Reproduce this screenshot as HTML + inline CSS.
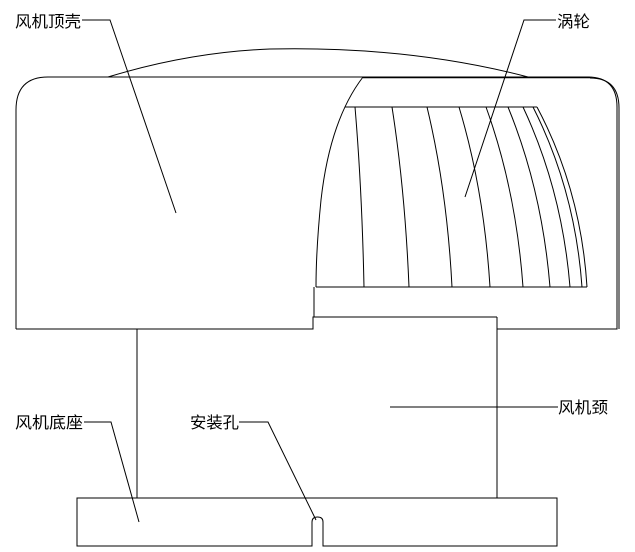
<!DOCTYPE html>
<html><head><meta charset="utf-8"><style>
html,body{margin:0;padding:0;background:#fff;}
svg{display:block}
text{font-family:"Liberation Sans","WenQuanYi Zen Hei","Noto Sans CJK SC",sans-serif;font-size:16px;fill:#000}
</style></head><body>
<svg width="635" height="552" viewBox="0 0 635 552" xmlns="http://www.w3.org/2000/svg">
<g fill="none" stroke="#000" stroke-width="1">
<path d="M16,329 L16,110 Q16,77 48,77 L588,77 Q617,77 617,107 L617,329 L497,329"/>
<path d="M590,78 Q619,78 619,108 L619,329"/>
<path d="M363,77.5 L590,77.5" stroke-width="1.6"/>
<path d="M16,329 L313,329 L313,317 L497,317"/>
<path d="M108,77 Q190,52 270,49 Q410,46 528,77"/>
<path d="M363,77 Q330,120 321,200 Q316,250 316,287"/>
<path d="M314,287 L314,317"/>
<path d="M345,107 L537,107"/>
<path d="M316,287 L587,287"/>
<path d="M355,107 Q362,190 364,287"/>
<path d="M392,107 Q405,190 409,287"/>
<path d="M427,107 Q447,190 452,287"/>
<path d="M459,107 Q484,190 490,287"/>
<path d="M486,107 Q516,190 523,287"/>
<path d="M508,107 Q542,190 550,287"/>
<path d="M523,107 Q562,190 570,287"/>
<path d="M533,107 Q575,190 582,287"/>
<path d="M537,107 Q581,190 587,287"/>
<path d="M137,329 L137,498"/>
<path d="M497,317 L497,498"/>
<path d="M312,546 L77,546 L77,498 L557,498 L557,546 L323,546 L323,522 Q323,517 317.5,517 Q312,517 312,522 Z"/>
<path d="M82,20 L110,20 L176,213"/>
<path d="M556,20 L524,20 L465,197"/>
<path d="M390,407 L558,407"/>
<path d="M84,422 L111,422 L139,522"/>
<path d="M239,422 L268,422 L316,520"/>
</g>
<text x="15" y="27" textLength="66" lengthAdjust="spacingAndGlyphs">风机顶壳</text>
<text x="557" y="27" textLength="33" lengthAdjust="spacingAndGlyphs">涡轮</text>
<text x="558" y="413" textLength="50" lengthAdjust="spacingAndGlyphs">风机颈</text>
<text x="15" y="428" textLength="68" lengthAdjust="spacingAndGlyphs">风机底座</text>
<text x="190" y="428" textLength="49" lengthAdjust="spacingAndGlyphs">安装孔</text>
</svg>
</body></html>
